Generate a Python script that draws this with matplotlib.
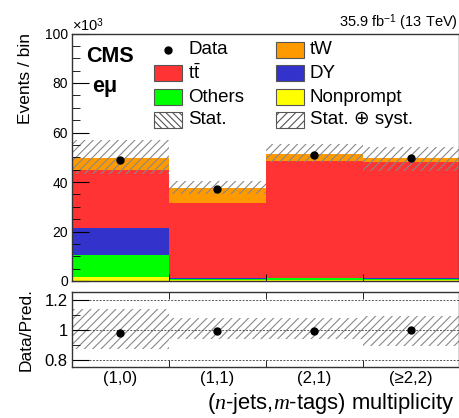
import matplotlib
matplotlib.use('Agg')
import matplotlib.pyplot as plt
from matplotlib.patches import Rectangle
from matplotlib.ticker import MultipleLocator
import numpy as np

plt.rcParams['font.family'] = ['Liberation Sans', 'DejaVu Sans']
plt.rcParams['mathtext.fontset'] = 'custom'
plt.rcParams['mathtext.rm'] = 'Liberation Sans'
plt.rcParams['mathtext.it'] = 'Liberation Serif:italic'
plt.rcParams['hatch.linewidth'] = 0.8

# values in units of 10^3 events
categories = ['(1,0)', '(1,1)', '(2,1)', '(≥2,2)']
nonprompt = [1.5, 0.4, 0.3, 0.3]
others = [9.1, 0.4, 0.8, 0.7]
dy = [11.0, 0.4, 0.3, 0.2]
ttbar = [23.4, 30.5, 46.9, 46.8]
tw = [4.8, 5.7, 3.0, 1.6]
data = [48.7, 37.1, 50.8, 49.5]
unc_up = [0.14, 0.08, 0.08, 0.095]
unc_down = [0.13, 0.063, 0.063, 0.105]

edges = np.arange(len(categories) + 1)
centers = edges[:-1] + 0.5

W, H = 460, 418
fig = plt.figure(figsize=(W / 100, H / 100), dpi=100)
ax = fig.add_axes([72 / W, (H - 281) / H, 387.5 / W, 247.5 / H])
rax = fig.add_axes([72 / W, (H - 367.3) / H, 387.5 / W, 75 / H])

stack = [
    (nonprompt, '#ffff00'),
    (others, '#00ff00'),
    (dy, '#3333cc'),
    (ttbar, '#ff3333'),
    (tw, '#ff9900'),
]
bottom = np.zeros(len(categories))
for vals, col in stack:
    ax.bar(edges[:-1], vals, width=1, bottom=bottom, align='edge',
           color=col, lw=0)
    bottom = bottom + np.array(vals)
pred = bottom

up = np.array(unc_up)
down = np.array(unc_down)
ax.bar(edges[:-1], pred * (up + down), width=1, bottom=pred * (1 - down),
       align='edge', fill=False, hatch='////', edgecolor='#888888', lw=0)
ax.plot(centers, data, 'o', color='k', ms=5, zorder=5)

ax.set_xlim(0, 4)
ax.set_ylim(0, 100)
ax.yaxis.set_major_locator(MultipleLocator(20))
ax.yaxis.set_minor_locator(MultipleLocator(5))
ax.set_xticks([])
ax.set_xticks(edges[1:-1], minor=True)
ax.tick_params(axis='x', which='minor', direction='in', length=5, bottom=True)
ax.tick_params(axis='y', which='major', direction='in', length=12,
               labelsize=10, pad=3)
ax.tick_params(axis='y', which='minor', direction='in', length=6)
ax.set_ylabel('Events / bin', fontsize=12.5, loc='top')
ax.yaxis.set_label_coords(-0.10, 1.0)

ratio = np.array(data) / pred
rax.bar(edges[:-1], up + down, width=1, bottom=1 - down, align='edge',
        fill=False, hatch='////', edgecolor='#888888', lw=0)
for yv in [0.8, 1.0, 1.2]:
    rax.axhline(yv, color='#555555', ls=(0, (2, 1.5)), lw=0.7, zorder=1)
rax.plot(centers, ratio, 'o', color='k', ms=5, zorder=5)
rax.set_xlim(0, 4)
rax.set_ylim(0.75, 1.25)
rax.set_yticks([0.8, 1.0, 1.2], ['0.8', '1', '1.2'])
rax.yaxis.set_minor_locator(MultipleLocator(0.1))
rax.set_xticks(centers, categories)
rax.set_xticks(edges[1:-1], minor=True)
rax.tick_params(axis='x', which='major', length=0, labelsize=12, pad=3)
rax.tick_params(axis='x', which='minor', direction='in', length=5,
                top=True, bottom=True)
rax.tick_params(axis='y', which='major', direction='in', length=12,
                labelsize=12, pad=3)
rax.tick_params(axis='y', which='minor', direction='in', length=6)
rax.set_ylabel('Data/Pred.', fontsize=12.5)
rax.yaxis.set_label_coords(-0.10, 0.5)

for a in (ax, rax):
    for s in a.spines.values():
        s.set_color('#333333')
        s.set_linewidth(1.0)

fig.text(72 / W, (H - 31) / H, '×10$^{3}$', fontsize=10.5, va='baseline')
fig.text(458 / W, (H - 27) / H, '35.9 fb$^{-1}$ (13 TeV)', fontsize=10.5,
         ha='right', va='baseline')
fig.text(455 / W, (H - 409) / H, '($n$-jets,$m$-tags) multiplicity',
         fontsize=15.8, ha='right', va='baseline')

ax.text(0.036, 0.885, 'CMS', transform=ax.transAxes, fontsize=15.5,
        fontweight='bold', va='baseline')
ax.text(0.052, 0.765, 'eμ', transform=ax.transAxes, fontsize=15.5,
        fontweight='bold', va='baseline')

# legend
def axy(py):
    return (281 - py) / 247.5

def axx(px):
    return (px - 72) / 387.5

entries = [
    (154, 50, 'Data', None),
    (154, 73, 't$\\bar{\\mathrm{t}}$', dict(facecolor='#ff3333')),
    (154, 97, 'Others', dict(facecolor='#00ff00')),
    (154, 120, 'Stat.', dict(facecolor='white', hatch='\\\\\\\\\\')),
    (276, 50, 'tW', dict(facecolor='#ff9900')),
    (276, 73, 'DY', dict(facecolor='#3333cc')),
    (276, 97, 'Nonprompt', dict(facecolor='#ffff00')),
    (276, 120, 'Stat. ⊕ syst.', dict(facecolor='white', hatch='////')),
]
for px, py, label, style in entries:
    if style is None:
        ax.plot([axx(px + 14)], [axy(py)], 'o', color='k', ms=5,
                transform=ax.transAxes)
    else:
        ec = '#555555'
        ax.add_patch(Rectangle((axx(px), axy(py + 8)), 28 / 387.5, 16 / 247.5,
                               transform=ax.transAxes, edgecolor=ec, lw=0.8,
                               zorder=6, **style))
    ax.text(axx(px + 34), axy(py), label, transform=ax.transAxes,
            fontsize=13.5, va='center')

fig.savefig('out.png', dpi=100)
